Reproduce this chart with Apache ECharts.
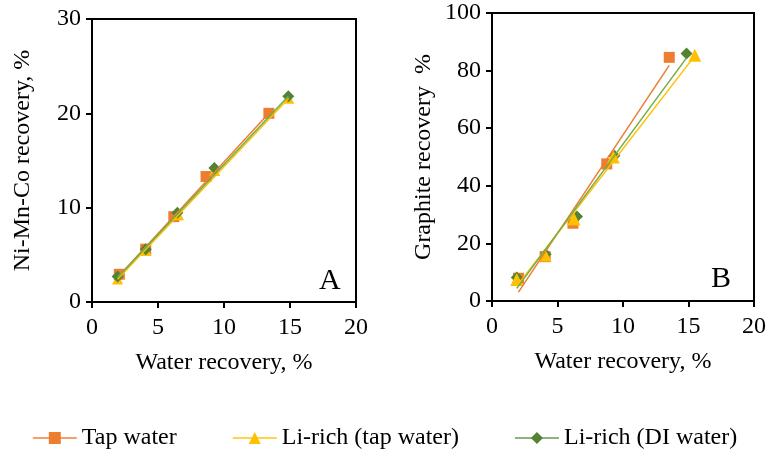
<!DOCTYPE html>
<html>
<head>
<meta charset="utf-8">
<script src="https://cdn.jsdelivr.net/npm/echarts@6/dist/echarts.min.js"></script>
<style>
  html, body { margin: 0; padding: 0; background: #fff; }
  #chart { width: 769px; height: 452px; }
</style>
</head>
<body>
<div id="chart"></div>
<script>
// panel A : Ni-Mn-Co recovery vs water recovery
var waterA_tap   = [2.07, 4.07, 6.2, 8.64, 13.4];
var nmcA_tap     = [2.94, 5.6, 9.05, 13.3, 20.0];
var waterA_liTap = [1.94, 4.1, 6.55, 9.3, 14.9];
var nmcA_liTap   = [2.45, 5.45, 9.25, 13.95, 21.6];
var waterA_liDi  = [1.94, 4.07, 6.47, 9.27, 14.87];
var nmcA_liDi    = [2.7, 5.6, 9.45, 14.2, 21.8];

// panel B : graphite recovery vs water recovery
var waterB_tap   = [2.02, 4.06, 6.18, 8.76, 13.53];
var graphB_tap   = [7.9, 15.4, 27.0, 47.6, 84.6];
var waterB_liTap = [1.89, 4.05, 6.26, 9.26, 15.48];
var graphB_liTap = [7.5, 16.0, 28.5, 50.0, 85.3];
var waterB_liDi  = [1.89, 4.1, 6.49, 9.34, 14.85];
var graphB_liDi  = [8.2, 16.2, 29.3, 50.4, 85.9];

// linear trendline end points
var trendA_tap_x   = [2.07, 13.4];   var trendA_tap_y   = [2.8, 20.0];
var trendA_liTap_x = [1.94, 14.9];   var trendA_liTap_y = [2.4, 21.6];
var trendA_liDi_x  = [1.94, 14.87];  var trendA_liDi_y  = [2.6, 21.8];
var trendB_tap_x   = [2.02, 13.53];  var trendB_tap_y   = [3.1, 81.8];
var trendB_liTap_x = [1.89, 15.48];  var trendB_liTap_y = [5.1, 85.1];
var trendB_liDi_x  = [1.89, 14.85];  var trendB_liDi_y  = [4.4, 84.4];

var seriesNames = ['Tap water', 'Li-rich (tap water)', 'Li-rich (DI water)'];
var xTicksMax = 20;

var FONT = "'Liberation Serif', 'Times New Roman', serif";
var C_ORANGE = '#ED7D31', C_YELLOW = '#FFC000', C_GREEN = '#548235', C_GREEN_LINE = '#70AD47';

function pairs(xs, ys) {
	return xs.map(function (x, i) { return [x, ys[i]]; });
}

//坐标轴公共样式
function axisBase(idx, min, max, interval, name, nameGap, labelMargin) {
	return {
		type: 'value', gridIndex: idx, min: min, max: max, interval: interval,
		name: name, nameLocation: 'middle', nameGap: nameGap,
		nameTextStyle: { fontFamily: FONT, fontSize: 24, color: '#000' },
		axisLine: { show: true, lineStyle: { color: '#000', width: 2 } },
		axisTick: { show: true, length: 6, lineStyle: { color: '#000', width: 2 } },
		axisLabel: { fontFamily: FONT, fontSize: 24, color: '#000', margin: labelMargin },
		splitLine: { show: false }
	};
}

function points(name, idx, xs, ys, symbol, size, color, z) {
	return {
		name: name, type: 'line', xAxisIndex: idx, yAxisIndex: idx,
		data: pairs(xs, ys), symbol: symbol, symbolSize: size, showSymbol: true,
		itemStyle: { color: color, opacity: 1 },
		lineStyle: { opacity: 0 }, z: z, silent: true
	};
}

function trend(name, idx, xs, ys, color) {
	return {
		name: name, type: 'line', xAxisIndex: idx, yAxisIndex: idx,
		data: pairs(xs, ys), symbol: 'none',
		lineStyle: { color: color, width: 1.5 }, z: 10, silent: true
	};
}

var myChart = echarts.init(document.getElementById('chart'));
var option = {
	animation: false,
	backgroundColor: '#fff',
	grid: [
		{ left: 92, right: 413, top: 19, bottom: 150, show: true, borderColor: '#000', borderWidth: 2 },
		{ left: 492, right: 13, top: 13, bottom: 151, show: true, borderColor: '#000', borderWidth: 2 }
	],
	xAxis: [
		axisBase(0, 0, xTicksMax, 5, 'Water recovery, %', 49, 14),
		axisBase(1, 0, xTicksMax, 5, 'Water recovery, %', 49, 14)
	],
	yAxis: [
		axisBase(0, 0, 30, 10, 'Ni-Mn-Co recovery, %', 57, 11),
		axisBase(1, 0, 100, 20, 'Graphite recovery  %', 56, 11)
	],
	legend: {
		top: 421, left: 'center', itemGap: 55, itemWidth: 44, itemHeight: 15,
		textStyle: { fontFamily: FONT, fontSize: 24, color: '#000' },
		data: [
			{ name: seriesNames[0], lineStyle: { opacity: 1, color: '#F4A06A', width: 2 } },
			{ name: seriesNames[1], lineStyle: { opacity: 1, color: '#FFD34F', width: 2 } },
			{ name: seriesNames[2], lineStyle: { opacity: 1, color: '#8FB47A', width: 2 } }
		]
	},
	graphic: [
		{ type: 'text', left: 319, top: 266, style: { text: 'A', font: '30px ' + FONT, fill: '#000' } },
		{ type: 'text', left: 711, top: 264, style: { text: 'B', font: '30px ' + FONT, fill: '#000' } }
	],
	series: [
		points(seriesNames[0], 0, waterA_tap, nmcA_tap, 'rect', 11, C_ORANGE, 3),
		points(seriesNames[1], 0, waterA_liTap, nmcA_liTap, 'triangle', 11, C_YELLOW, 4),
		points(seriesNames[2], 0, waterA_liDi, nmcA_liDi, 'diamond', 12, C_GREEN, 5),
		trend('tA0', 0, trendA_tap_x, trendA_tap_y, C_ORANGE),
		trend('tA1', 0, trendA_liTap_x, trendA_liTap_y, C_YELLOW),
		trend('tA2', 0, trendA_liDi_x, trendA_liDi_y, C_GREEN_LINE),

		points(seriesNames[0], 1, waterB_tap, graphB_tap, 'rect', 11, C_ORANGE, 3),
		points(seriesNames[2], 1, waterB_liDi, graphB_liDi, 'diamond', 12, C_GREEN, 4),
		points(seriesNames[1], 1, waterB_liTap, graphB_liTap, 'triangle', 13, C_YELLOW, 5),
		trend('tB0', 1, trendB_tap_x, trendB_tap_y, C_ORANGE),
		trend('tB1', 1, trendB_liTap_x, trendB_liTap_y, C_YELLOW),
		trend('tB2', 1, trendB_liDi_x, trendB_liDi_y, C_GREEN_LINE)
	]
};
myChart.setOption(option);
</script>
</body>
</html>
